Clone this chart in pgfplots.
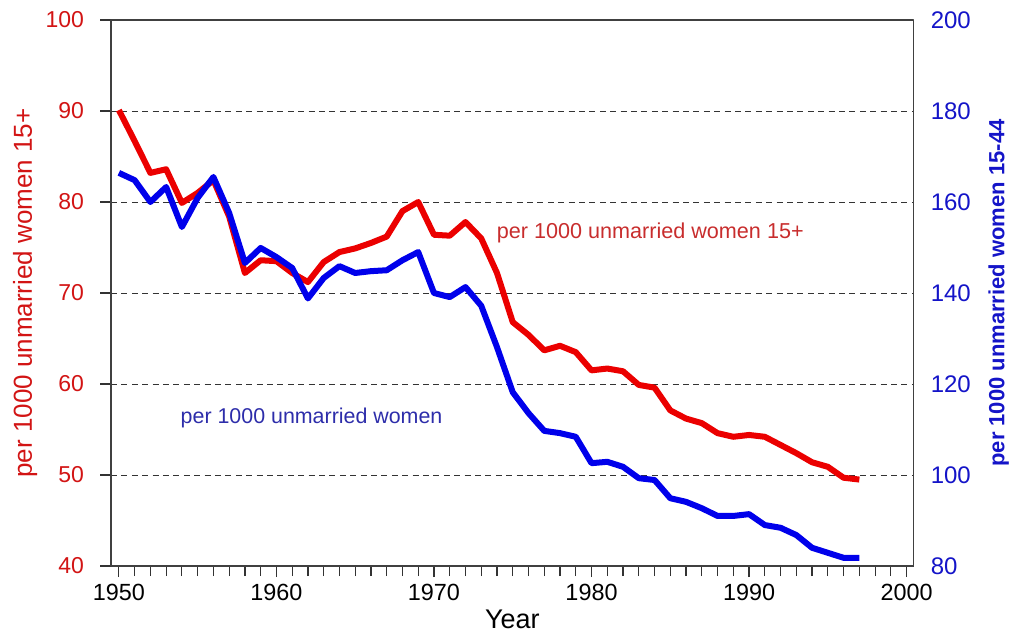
\documentclass[border=0pt]{standalone}
\usepackage{pgfplots}
\pgfplotsset{compat=1.18}
\usepackage{pgfplotstable}
\usepackage{fontspec}
\setmainfont{Liberation Sans}
\definecolor{lred}{RGB}{235,0,0}
\definecolor{lblue}{RGB}{0,0,235}
\definecolor{tred}{RGB}{210,20,20}
\definecolor{tblue}{RGB}{20,20,200}
\definecolor{ared}{RGB}{200,45,45}
\definecolor{ablue}{RGB}{45,45,170}
\pgfplotstableread{
year val
1950 90.1
1951 86.7
1952 83.2
1953 83.6
1954 79.9
1955 81.0
1956 82.4
1957 78.4
1958 72.2
1959 73.6
1960 73.5
1961 72.2
1962 71.2
1963 73.4
1964 74.5
1965 74.9
1966 75.5
1967 76.2
1968 79.0
1969 80.0
1970 76.4
1971 76.3
1972 77.8
1973 76.0
1974 72.2
1975 66.8
1976 65.4
1977 63.7
1978 64.2
1979 63.5
1980 61.5
1981 61.7
1982 61.4
1983 59.9
1984 59.6
1985 57.1
1986 56.2
1987 55.7
1988 54.6
1989 54.2
1990 54.4
1991 54.2
1992 53.3
1993 52.4
1994 51.4
1995 50.9
1996 49.7
1997 49.5
}\redtab
\pgfplotstableread{
year val
1950 166.4
1951 164.8
1952 160.0
1953 163.3
1954 154.5
1955 160.9
1956 165.5
1957 157.6
1958 146.6
1959 149.9
1960 147.9
1961 145.5
1962 138.8
1963 143.3
1964 145.9
1965 144.4
1966 144.8
1967 145.0
1968 147.2
1969 149.0
1970 140.0
1971 139.1
1972 141.3
1973 137.2
1974 128.1
1975 118.2
1976 113.6
1977 109.7
1978 109.2
1979 108.4
1980 102.6
1981 102.9
1982 101.8
1983 99.3
1984 98.9
1985 94.9
1986 94.1
1987 92.7
1988 91.0
1989 91.0
1990 91.4
1991 89.0
1992 88.4
1993 86.8
1994 84.0
1995 82.9
1996 81.8
1997 81.8
}\bluetab
\begin{document}
\begin{tikzpicture}
\begin{axis}[
  at={(0,0)}, anchor=south west,
  scale only axis, width=401.35pt, height=273pt,
  xmin=1949.5, xmax=2000.45, ymin=40, ymax=100,
  xtick={1950,1960,...,2000}, minor x tick num=9,
  ytick={40,50,...,100},
  xtick pos=bottom, ytick pos=left,
  tick align=outside,
  major tick length=5.5pt, minor tick length=5pt,
  tick style={black!80, line width=0.6pt},
  axis line style={black!75, line width=0.7pt},
  ymajorgrids, grid style={black!80, dash pattern=on 3pt off 2.2pt, line width=0.5pt},
  /pgf/number format/assume math mode=true,
  /pgf/number format/1000 sep={},
  xticklabel style={font=\fontsize{11.7}{13}\selectfont, text=black},
  yticklabel style={font=\fontsize{11.5}{13}\selectfont, text=tred, xshift=-4.5pt},
  xlabel={Year},
  xlabel style={font=\fontsize{13.5}{15}\selectfont, at={(axis description cs:0.5,-0.097)}, anchor=center},
  ylabel={per 1000 unmarried women 15+},
  ylabel style={font=\fontsize{13}{15}\selectfont, text=tred, at={(axis description cs:-0.107,0.5)}, anchor=center, rotate=0},
  line join=round,
]
\addplot[lred, line width=3pt] table[x=year, y=val] {\redtab};
\node[anchor=west, text=ared, font=\fontsize{10.8}{12}\selectfont, inner sep=0pt] at (axis cs:1973.97,76.6) {per 1000 unmarried women 15+};
\node[anchor=west, text=ablue, font=\fontsize{10.7}{12}\selectfont, inner sep=0pt] at (axis cs:1953.9,56.3) {per 1000 unmarried women};
\end{axis}
\begin{axis}[
  at={(0,0)}, anchor=south west,
  scale only axis, width=401.35pt, height=273pt,
  xmin=1949.5, xmax=2000.45, ymin=80, ymax=200,
  axis x line=none, axis y line*=right,
  ytick={80,100,...,200},
  major tick length=0pt,
  axis line style={black!75, line width=0.7pt},
  /pgf/number format/assume math mode=true,
  yticklabel style={font=\fontsize{12}{13}\selectfont, text=tblue, xshift=5pt},
  ylabel={\bfseries per 1000 unmarried women 15-44},
  ylabel style={font=\fontsize{11}{13}\selectfont, text=tblue, at={(axis description cs:1.106,0.5)}, anchor=center, rotate=0},
  line join=round,
]
\addplot[lblue, line width=3pt] table[x=year, y=val] {\bluetab};
\end{axis}
\pgfresetboundingbox
\path[use as bounding box] (-55.5pt,-33pt) rectangle (450.5pt,283pt);
\end{tikzpicture}
\end{document}
